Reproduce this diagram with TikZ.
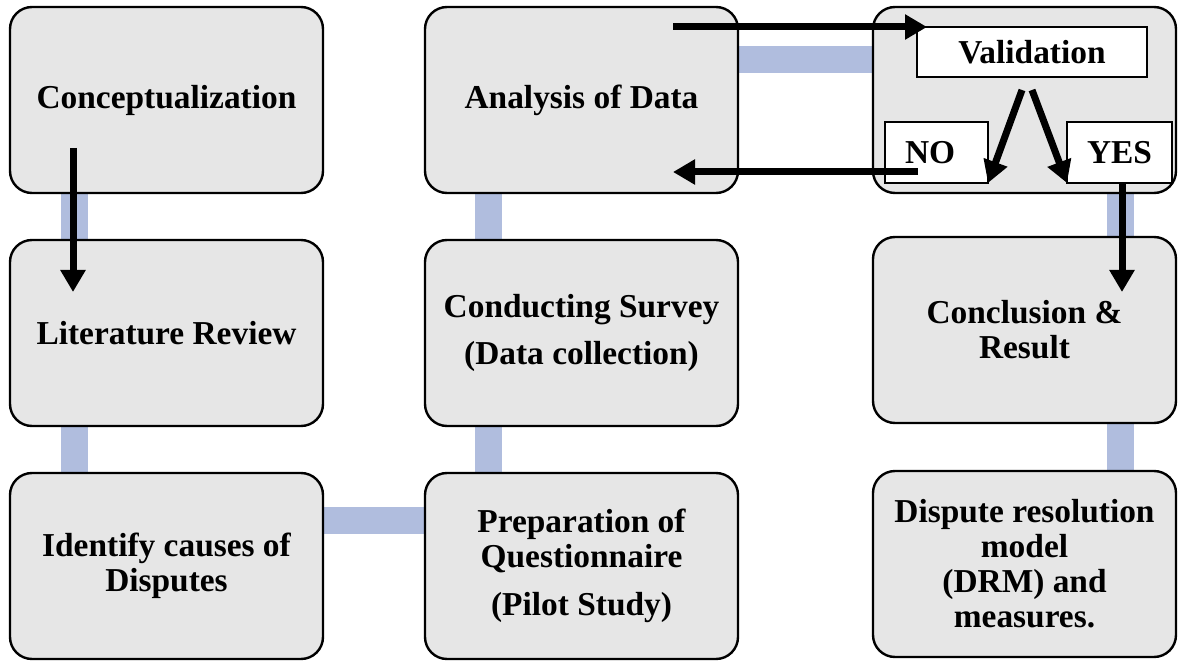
\documentclass[tikz,border=0pt]{standalone}
\usepackage{fontspec}
\setmainfont{Liberation Serif}
\usetikzlibrary{arrows.meta,positioning,backgrounds}
\definecolor{linkblue}{RGB}{176,189,222}
\definecolor{boxgray}{RGB}{230,230,230}
\tikzset{
  stage/.style={draw, line width=1.2pt, rounded corners=11pt, fill=boxgray,
    minimum width=156.5pt, minimum height=93pt, align=center, outer sep=0pt,
    font=\fontsize{16.7}{17.5}\selectfont\bfseries},
  tag/.style={draw, line width=0.7pt, fill=white, outer sep=0pt, inner sep=0pt,
    font=\fontsize{16.7}{17.5}\selectfont\bfseries},
  link/.style={draw=linkblue, line width=13.5pt},
  flow/.style={line width=3.5pt, -{Triangle[length=11pt,width=12pt]}},
}
\begin{document}
\begin{tikzpicture}[x=0.5pt, y=-0.5pt, node distance=23.5pt]
 \useasboundingbox (0,0) rectangle (1178,663);
 % first column
 \node[stage] (concept) at (166.5,100) {Conceptualization};
 \node[stage, below=of concept] (litrev) {Literature Review};
 \node[stage, below=of litrev] (causes) {Identify causes of\\Disputes};
 % second column
 \node[stage, right=51pt of concept] (analysis) {Analysis of Data};
 \node[stage, below=of analysis] (survey) {Conducting Survey\\[6pt](Data collection)};
 \node[stage, below=of survey] (prep) {Preparation of\\Questionnaire\\[6.5pt](Pilot Study)};
 % third column
 \node[stage, minimum width=151.5pt, right=67.5pt of analysis] (check) {};
 \node[stage, minimum width=151.5pt, below=22pt of check] (concl) {Conclusion \&\\Result};
 \node[stage, minimum width=151.5pt, below=24pt of concl] (drm) {Dispute resolution\\model\\(DRM) and\\measures.};
 \node[tag, minimum width=115pt, minimum height=25pt] (val) at (1032,52) {Validation};
 \node[tag, minimum height=30.5pt, inner xsep=10pt, text width=31.5pt, align=left] (no) at (936.5,152.5) {NO};
 \node[tag, minimum width=52.5pt, minimum height=30.5pt] (yes) at (1119.5,152.5) {YES};
 % blue links
 \begin{scope}[on background layer]
  \draw[link] ([xshift=32pt]concept.south west) -- ([xshift=32pt]litrev.north west);
  \draw[link] ([xshift=32pt]litrev.south west) -- ([xshift=32pt]causes.north west);
  \draw[link] ([xshift=31.75pt]analysis.south west) -- ([xshift=31.75pt]survey.north west);
  \draw[link] ([xshift=31.75pt]survey.south west) -- ([xshift=31.75pt]prep.north west);
  \draw[link] ([xshift=123.5pt]check.south west) -- ([xshift=123.5pt]concl.north west);
  \draw[link] ([xshift=123.5pt]concl.south west) -- ([xshift=123.5pt]drm.north west);
  \draw[link] ([yshift=-26.5pt]analysis.north east) -- ([yshift=-26.5pt]check.north west);
  \draw[link] ([yshift=-23.5pt]causes.north east) -- ([yshift=-23.5pt]prep.north west);
 \end{scope}
 % arrows
 \draw[flow] ([xshift=31.5pt,yshift=22.5pt]concept.south west) -- ([xshift=31.5pt,yshift=-26pt]litrev.north west);
 \draw[flow] ([xshift=-32.5pt,yshift=-10pt]analysis.north east) -- ([xshift=5pt]val.north west);
 \draw[flow] ([xshift=16.5pt,yshift=5.5pt]no.south west) -- ([xshift=-32.5pt,yshift=10.5pt]analysis.south east);
 \draw[flow] ([xshift=-5pt,yshift=-6.5pt]val.south) -- (no.south east);
 \draw[flow] ([yshift=-6.5pt]val.south) -- (yes.south west);
 \draw[flow] ([xshift=1.25pt]yes.south) -- ([xshift=-27pt,yshift=-27.5pt]concl.north east);
\end{tikzpicture}
\end{document}
